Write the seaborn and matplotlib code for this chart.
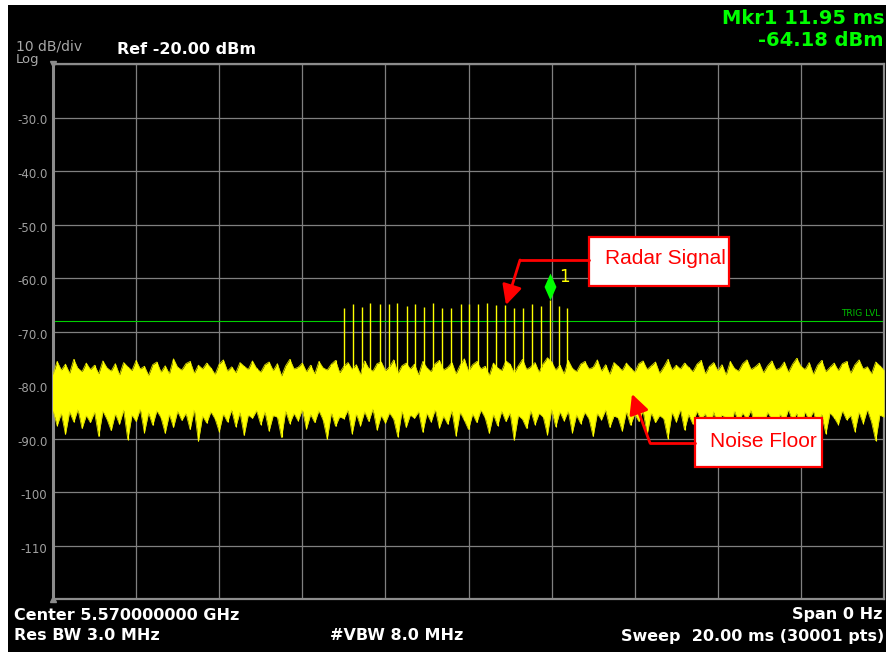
import numpy as np
import pandas as pd
import seaborn as sns
import matplotlib
matplotlib.use("Agg")
import matplotlib.pyplot as plt
from matplotlib.patches import Rectangle, FancyArrowPatch
from matplotlib.lines import Line2D
from matplotlib.path import Path
from matplotlib.transforms import blended_transform_factory, ScaledTranslation

# --- data ---
# noise floor envelope (dBm), one upper / lower value per 0.1 ms of the 20 ms sweep
noise_top = [
    -78.0, -75.6, -77.2, -76.1, -77.8, -75.2, -76.9, -77.5, -75.9, -77.1,
    -76.3, -77.9, -75.5, -76.8, -77.4, -76.0, -78.1, -75.8, -76.6, -77.3,
    -75.4, -77.0, -76.5, -78.2, -76.2, -75.7, -77.6, -76.4, -77.9, -75.1,
    -76.7, -77.2, -76.0, -75.6, -77.8, -76.3, -77.0, -75.9, -76.8, -78.0,
    -76.1, -75.3, -77.4, -76.6, -77.7, -75.8, -76.5, -77.1, -75.5, -76.9,
    -77.6, -76.2, -75.7, -77.3, -76.0, -78.3, -76.4, -75.2, -77.0, -76.7,
    -75.9, -77.5, -76.3, -77.9, -75.6, -76.8, -77.2, -76.1, -75.4, -77.7,
    -76.5, -75.8, -77.1, -76.2, -78.0, -75.5, -76.9, -77.4, -76.0, -75.7,
    -77.3, -76.6, -75.3, -77.8, -76.4, -75.9, -77.0, -76.1, -78.1, -75.6,
    -76.8, -77.5, -76.0, -75.4, -77.2, -76.7, -75.8, -77.9, -76.3, -75.1,
    -77.4, -76.2, -75.6, -77.0, -76.5, -78.2, -75.9, -76.8, -77.3, -75.5,
    -76.1, -77.7, -76.4, -75.2, -77.1, -76.6, -75.8, -77.6, -76.0, -74.9,
    -75.7, -77.2, -76.3, -77.9, -75.4, -76.9, -77.5, -76.1, -75.6, -77.0,
    -76.7, -75.3, -77.4, -76.2, -78.0, -75.8, -76.5, -77.3, -75.9, -76.8,
    -77.6, -76.0, -75.5, -77.1, -76.4, -75.7, -77.8, -76.6, -75.2, -77.2,
    -76.3, -77.0, -75.9, -76.7, -77.5, -76.1, -75.4, -77.9, -76.5, -75.8,
    -77.3, -76.2, -78.1, -75.6, -76.9, -77.4, -76.0, -75.3, -77.1, -76.6,
    -75.9, -77.7, -76.4, -75.5, -77.2, -76.8, -75.7, -77.6, -76.1, -75.0,
    -76.5, -77.1, -75.8, -78.0, -76.3, -75.4, -77.5, -76.7, -75.9, -77.3,
    -76.0, -75.6, -77.8, -76.2, -75.3, -77.0, -76.6, -77.9, -75.7, -76.4,
    -77.2,
]
noise_bot = [
    -84.8, -87.6, -85.3, -89.2, -85.0, -86.9, -84.6, -88.1, -85.7, -87.0,
    -85.1, -89.6, -84.9, -86.4, -88.5, -85.4, -87.3, -84.7, -90.2, -85.6,
    -86.8, -84.5, -88.9, -85.2, -87.5, -84.8, -86.1, -89.0, -85.5, -87.9,
    -84.9, -86.6, -85.3, -88.3, -84.6, -90.5, -85.8, -87.1, -85.0, -86.3,
    -88.7, -85.4, -86.9, -84.7, -87.8, -85.1, -89.4, -85.6, -86.2, -84.8,
    -87.4, -85.0, -88.6, -85.7, -86.0, -89.8, -84.9, -87.2, -85.3, -86.7,
    -84.6, -88.2, -85.5, -87.0, -84.8, -86.5, -90.1, -85.2, -87.7, -85.9,
    -86.3, -84.7, -89.1, -85.4, -87.6, -85.0, -86.8, -84.5, -88.4, -85.7,
    -87.1, -85.2, -86.4, -89.7, -84.9, -87.9, -85.6, -86.2, -85.0, -88.8,
    -85.3, -86.9, -84.6, -88.0, -85.8, -87.3, -84.8, -89.5, -85.1, -86.6,
    -88.3, -85.4, -87.0, -84.7, -86.1, -89.0, -85.5, -87.6, -84.9, -86.8,
    -85.2, -90.3, -85.7, -86.4, -88.1, -84.8, -87.4, -85.3, -86.0, -89.3,
    -84.6, -87.8, -85.0, -86.7, -84.9, -88.9, -85.6, -87.2, -85.1, -86.3,
    -89.6, -85.3, -86.5, -84.7, -87.9, -85.8, -86.1, -88.6, -85.0, -87.5,
    -85.4, -86.8, -84.8, -89.2, -85.2, -87.0, -85.7, -86.3, -90.0, -85.1,
    -86.9, -84.6, -88.4, -85.5, -87.3, -84.9, -86.6, -85.3, -88.8, -85.0,
    -87.7, -85.6, -86.2, -89.4, -84.8, -87.1, -85.2, -86.5, -84.7, -88.2,
    -85.9, -87.6, -85.1, -86.4, -89.9, -85.4, -87.0, -84.6, -86.8, -85.3,
    -88.5, -85.0, -86.7, -84.9, -87.8, -85.5, -89.1, -85.2, -86.1, -87.4,
    -84.8, -86.5, -85.7, -88.7, -85.1, -87.2, -84.6, -86.9, -90.4, -85.6,
    -86.0,
]
sweep_ms = np.linspace(0, 20, len(noise_top))

# radar pulse train (time in ms, peak in dBm)
pulse_ms = [7.00, 7.22, 7.44, 7.64, 7.86, 8.08, 8.29, 8.52, 8.72, 8.94,
            9.15, 9.37, 9.59, 9.81, 10.02, 10.22, 10.45, 10.67, 10.89, 11.09,
            11.31, 11.52, 11.74, 11.95, 12.17, 12.37]
pulse_dbm = [-65.6, -64.9, -65.4, -64.6, -64.8, -64.8, -64.6, -65.2, -64.9, -65.4,
             -64.6, -65.7, -65.6, -64.8, -64.8, -64.8, -64.6, -65.1, -65.1, -65.6,
             -65.6, -64.8, -65.2, -64.18, -65.2, -65.7]
pulse_base = -80.0

trig_dbm = -68.0
mkr_ms, mkr_dbm = 11.95, -64.18

y_ticks = [-20, -30, -40, -50, -60, -70, -80, -90, -100, -110, -120]
y_labels = ["", "-30.0", "-40.0", "-50.0", "-60.0", "-70.0", "-80.0", "-90.0", "-100", "-110", ""]
x_ticks = [0, 2, 4, 6, 8, 10, 12, 14, 16, 18, 20]

W, H = 890, 655
YEL = "#ffff00"
GRN = "#00ff00"
GRAY = "#8c8c8c"

sns.set_style("dark", {"axes.facecolor": "black", "figure.facecolor": "white",
                       "grid.color": "#808080", "axes.edgecolor": GRAY})
plt.rcParams["font.family"] = ["DejaVu Sans"]


def fx(x):
    return x / W


def fy(y):
    return 1 - y / H


fig = plt.figure(figsize=(8.9, 6.55), dpi=100)
fig.add_artist(Rectangle((fx(8), fy(652)), 878 / W, 647 / H, transform=fig.transFigure,
                         facecolor="black", edgecolor="none", zorder=-10))
ax = fig.add_axes([fx(53), fy(599), 831 / W, 535 / H])
ax.set_facecolor("black")

# noise floor
df = pd.DataFrame({"ms": sweep_ms, "top": noise_top, "bot": noise_bot})
ax.fill_between(df["ms"], df["bot"], df["top"], color=YEL, lw=0, zorder=3)
sns.lineplot(data=df, x="ms", y="top", estimator=None, color="#d8d800", lw=0.6, ax=ax, zorder=3)
sns.lineplot(data=df, x="ms", y="bot", estimator=None, color="#d8d800", lw=0.6, ax=ax, zorder=3)
ax.vlines(df["ms"], df["bot"], df["top"], color=YEL, lw=0.8, zorder=3.3)

# pulses
ax.vlines(pulse_ms, pulse_base, pulse_dbm, color=YEL, lw=1.0, zorder=4)

# trigger level
ax.axhline(trig_dbm, color="#00d000", lw=0.8, zorder=2.5)
ax.text(0.995, trig_dbm + 0.5, "TRIG LVL", transform=blended_transform_factory(ax.transAxes, ax.transData),
        ha="right", va="bottom", color="#00c000", fontsize=6.5)

# marker 1 (bottom tip sits on the measured point)
diamond = Path([(0, 0), (0.44, 1), (0, 2), (-0.44, 1), (0, 0)],
               [Path.MOVETO, Path.LINETO, Path.LINETO, Path.LINETO, Path.CLOSEPOLY])
ax.plot([mkr_ms], [mkr_dbm], marker=diamond, ms=38.9, color=GRN, mew=0, ls="none", zorder=6)
ax.annotate("1", (mkr_ms, mkr_dbm), xytext=(7, 13), textcoords="offset points",
            color=YEL, fontsize=12, ha="left", va="baseline")

ax.set_xlim(0, 20)
ax.set_ylim(-120, -20)
ax.set_xticks(x_ticks)
ax.set_xticklabels([])
ax.set_yticks(y_ticks)
ax.set_yticklabels(y_labels)
ax.set_xlabel("")
ax.set_ylabel("")
ax.tick_params(length=0, colors="#a0a0a0", labelsize=8.5, pad=4)
for lab in ax.get_yticklabels():
    lab.set_transform(lab.get_transform() + ScaledTranslation(0, -2 / 100, fig.dpi_scale_trans))
ax.grid(True, color="#808080", lw=0.9)
ax.set_axisbelow(True)
for side, s in ax.spines.items():
    s.set_visible(True)
    s.set_color(GRAY)
    s.set_linewidth(2.2 if side == "left" else 1.6)
ax.plot([0], [1], marker="v", ms=5, color=GRAY, transform=ax.transAxes, clip_on=False)
ax.plot([0], [0], marker="^", ms=5, color=GRAY, transform=ax.transAxes, clip_on=False)

# header / footer text
fig.text(fx(16), fy(47), "10 dB/div", color="#a8a8a8", fontsize=10, ha="left", va="center")
fig.text(fx(16), fy(60), "Log", color="#a8a8a8", fontsize=9.5, ha="left", va="center")
fig.text(fx(117), fy(49), "Ref -20.00 dBm", color="white", fontsize=11.5, weight="bold",
         ha="left", va="center")
fig.text(fx(884), fy(18), "Mkr1 11.95 ms", color=GRN, fontsize=14, weight="bold",
         ha="right", va="center")
fig.text(fx(884), fy(41), "-64.18 dBm", color=GRN, fontsize=14, weight="bold",
         ha="right", va="center")
fig.text(fx(14), fy(615), "Center 5.570000000 GHz", color="white", fontsize=11.5,
         weight="bold", ha="left", va="center")
fig.text(fx(14), fy(636), "Res BW 3.0 MHz", color="white", fontsize=11.5,
         weight="bold", ha="left", va="center")
fig.text(fx(330), fy(636), "#VBW 8.0 MHz", color="white", fontsize=11.5,
         weight="bold", ha="left", va="center")
fig.text(fx(882), fy(615), "Span 0 Hz", color="white", fontsize=11.5,
         weight="bold", ha="right", va="center")
fig.text(fx(884), fy(636), "Sweep  20.00 ms (30001 pts)", color="white", fontsize=11.5,
         weight="bold", ha="right", va="center")

# callouts
for (x0, y0, x1, y1), label, tx, ty, (ax0, ay0, ax1, ay1, tipx, tipy) in [
    ((589, 237, 729, 286), "Radar Signal", 605, 264, (589, 260, 520, 260, 506, 305)),
    ((695, 418, 822, 467), "Noise Floor", 710, 447, (695, 443, 650, 443, 632, 394)),
]:
    fig.add_artist(Rectangle((fx(x0), fy(y1)), (x1 - x0) / W, (y1 - y0) / H,
                             transform=fig.transFigure, facecolor="white",
                             edgecolor="red", lw=1.6, zorder=10))
    fig.text(fx(tx), fy(ty), label, color="red", fontsize=15, family="Liberation Sans",
             ha="left", va="baseline", zorder=11)
    fig.add_artist(Line2D([fx(ax0), fx(ax1)], [fy(ay0), fy(ay1)], transform=fig.transFigure,
                          color="red", lw=2, zorder=10))
    fig.add_artist(FancyArrowPatch((fx(ax1), fy(ay1)), (fx(tipx), fy(tipy)),
                                   transform=fig.transFigure, color="red", lw=2,
                                   arrowstyle="-|>,head_length=0.6,head_width=0.3",
                                   mutation_scale=20, shrinkA=0, shrinkB=0, zorder=10))

fig.savefig("out.png", dpi=100)
